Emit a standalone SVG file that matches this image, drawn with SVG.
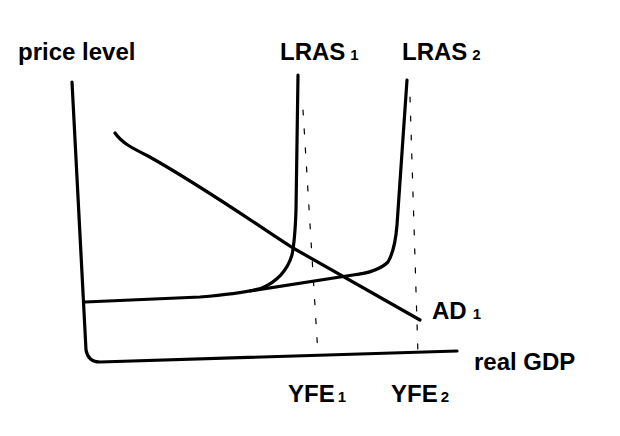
<svg xmlns="http://www.w3.org/2000/svg" width="620" height="436" viewBox="0 0 620 436">
<style>
.c{fill:none;stroke:#000;stroke-width:3.2;stroke-linecap:round;stroke-linejoin:round}
.d{fill:none;stroke:#000;stroke-width:1.2;stroke-dasharray:5 14;stroke-linecap:round}
.t{font-family:"Liberation Sans",Arial,sans-serif;font-size:24px;fill:#000;font-weight:bold}
.s{font-size:15px}
</style>
<rect width="620" height="436" fill="#fff"/>
<g id="connectors">
<path class="c" d="M72 82 L86 350 Q88 362 100 362 L457 351"/>
<path class="c" d="M115 133 C122 143 132 148 148 156 C200 185 250 220 293 248 L420 320"/>
<path class="c" d="M85 302 L200 297 Q245 293 262 288 Q285 278 292 255 Q295 240 296 210 L298 75"/>
<path class="c" d="M250 291 L353 275 Q378 272 388 262 Q395 250 397 225 L407 80"/>
<path class="d" d="M303 110 L318 355"/>
<path class="d" d="M410 97 L418 355"/>
</g>
<g id="label-price"><text class="t" x="18" y="60">price level</text></g>
<g id="label-las1"><text class="t" x="280" y="60">LRAS<tspan class="s" dx="5">1</tspan></text></g>
<g id="label-las2"><text class="t" x="402" y="60">LRAS<tspan class="s" dx="5">2</tspan></text></g>
<g id="label-ad"><text class="t" x="432" y="319">AD<tspan class="s" dx="6">1</tspan></text></g>
<g id="label-gdp"><text class="t" x="474" y="370">real GDP</text></g>
<g id="label-yfe1"><text class="t" x="288" y="402">YFE<tspan class="s" dx="3">1</tspan></text></g>
<g id="label-yfe2"><text class="t" x="391" y="402">YFE<tspan class="s" dx="3">2</tspan></text></g>
</svg>
